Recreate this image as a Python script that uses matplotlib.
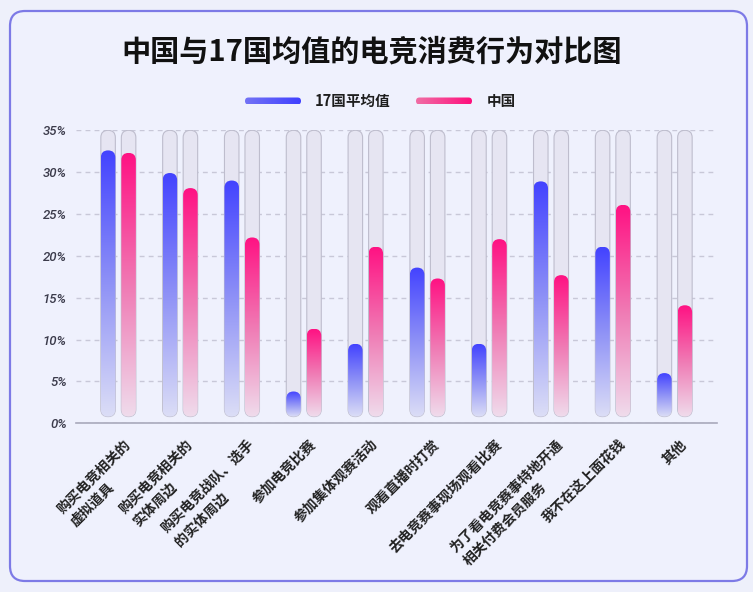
import numpy as np
import matplotlib
matplotlib.use("Agg")
import matplotlib.pyplot as plt
from matplotlib.patches import FancyBboxPatch
from matplotlib.colors import LinearSegmentedColormap
import matplotlib.transforms as mtransforms

plt.rcParams['font.family'] = ['Noto Sans CJK SC', 'DejaVu Sans']

# ---------------- data ----------------
title = "中国与17国均值的电竞消费行为对比图"
categories = ["购买电竞相关的\n虚拟道具", "购买电竞相关的\n实体周边", "购买电竞战队、选手\n的实体周边",
              "参加电竞比赛", "参加集体观赛活动", "观看直播时打赏", "去电竞赛事现场观看比赛",
              "为了看电竞赛事特地开通\n相关付费会员服务", "我不在这上面花钱", "其他"]
series_names = ["17国平均值", "中国"]
avg17 = [32.6, 29.9, 29.0, 3.8, 9.5, 18.6, 9.5, 28.9, 21.1, 6.0]
china = [32.3, 28.1, 22.2, 11.3, 21.1, 17.3, 22.0, 17.7, 26.1, 14.1]
yticks = [0, 5, 10, 15, 20, 25, 30, 35]
ytick_labels = [f"{v}%" for v in yticks]

# ---------------- figure ----------------
W, H = 753, 592
fig = plt.figure(figsize=(W / 100, H / 100), dpi=100)
fig.patch.set_facecolor('#eef0fb')

bg = fig.add_axes([0, 0, 1, 1], zorder=-10)
bg.set_xlim(0, W)
bg.set_ylim(H, 0)
bg.axis('off')
card = FancyBboxPatch((10, 11), 737, 570, boxstyle="round,pad=0,rounding_size=15",
                      fc='#eff1fd', ec='#7d7ae6', lw=1.6, zorder=1)
bg.add_patch(card)

# title
fig.text(371.5 / W, 1 - 51.5 / H, title, ha='center', va='center', fontsize=21,
         weight='bold', color='#111111')

# legend (drawn in pixel coordinates)
blue_leg = LinearSegmentedColormap.from_list('bl', ['#7373f5', '#4040ff'])
pink_leg = LinearSegmentedColormap.from_list('pl', ['#f06ea5', '#ff0f7d'])
hgrad = np.linspace(0, 1, 256).reshape(1, -1)
for (x0, x1), cm, name, tx in [((245, 301), blue_leg, series_names[0], 315),
                               ((416, 472), pink_leg, series_names[1], 487)]:
    p = FancyBboxPatch((x0, 97.5), x1 - x0, 7, boxstyle="round,pad=0,rounding_size=3.5",
                       fc='none', ec='none', zorder=3)
    bg.add_patch(p)
    im = bg.imshow(hgrad, extent=(x0, x1, 104.5, 97.5), aspect='auto', cmap=cm, zorder=3)
    im.set_clip_path(p)
    bg.text(tx, 101, name, ha='left', va='center', fontsize=10.5, weight='bold',
            color='#1e1e1e', zorder=4)
bg.set_xlim(0, W)
bg.set_ylim(H, 0)

# ---------------- main axes ----------------
ax_left, ax_right, ax_bot, ax_top = 76, 717, 423.3, 130.3
ax = fig.add_axes([ax_left / W, (H - ax_bot) / H, (ax_right - ax_left) / W, (ax_bot - ax_top) / H])
ax.set_facecolor('none')
xlim = (-0.685, 9.685)
ylim = (0, 35)
ax.set_xlim(*xlim)
ax.set_ylim(*ylim)

pxx = (ax_right - ax_left) / (xlim[1] - xlim[0])
pxy = (ax_bot - ax_top) / (ylim[1] - ylim[0])
bar_w_px, gap_px = 14.5, 6.0
wx = bar_w_px / pxx
off = (bar_w_px + gap_px) / 2 / pxx
r = (bar_w_px / 2) / pxx
aspect = pxx / pxy
track_bottom = 0.8

cm_blue = LinearSegmentedColormap.from_list('b', ['#dcdef6', '#8f92f6', '#4343ff'])
cm_pink = LinearSegmentedColormap.from_list('p', ['#efdcec', '#f07ab4', '#ff1283'])
vgrad = np.linspace(0, 1, 256).reshape(-1, 1)

x = np.arange(len(categories))
for vals, sgn, cm in [(avg17, -1, cm_blue), (china, 1, cm_pink)]:
    for xi, v in zip(x, vals):
        xc = xi + sgn * off
        track = FancyBboxPatch((xc - wx / 2, track_bottom), wx, ylim[1] - track_bottom,
                               boxstyle=f"round,pad=0,rounding_size={r}",
                               mutation_aspect=aspect, fc='#e6e5f2', ec='#bebdcd', lw=0.8,
                               zorder=2)
        ax.add_patch(track)
        bar = FancyBboxPatch((xc - wx / 2, track_bottom), wx, v - track_bottom,
                             boxstyle=f"round,pad=0,rounding_size={r}",
                             mutation_aspect=aspect, fc='none', ec='none', zorder=3)
        ax.add_patch(bar)
        im = ax.imshow(vgrad, extent=(xc - wx / 2, xc + wx / 2, track_bottom, v),
                       origin='lower', aspect='auto', cmap=cm, zorder=3)
        im.set_clip_path(bar)

ax.set_xlim(*xlim)
ax.set_ylim(*ylim)

# axes styling
for s in ['left', 'right', 'top']:
    ax.spines[s].set_visible(False)
ax.spines['bottom'].set_color('#a9a9bb')
ax.spines['bottom'].set_linewidth(1.2)
ax.set_yticks(yticks)
ax.set_yticklabels(ytick_labels, family=['Roboto', 'DejaVu Sans'], style='italic',
                   weight='medium', fontsize=9.5, color='#3b3b4b')
ax.tick_params(axis='y', length=0, pad=6.7)
ax.set_xticks([])
ax.yaxis.grid(True, ls=(0, (3.5, 3)), color='#c8c8d8', lw=1)
ax.set_axisbelow(True)

lab_tr = ax.transData + mtransforms.ScaledTranslation(5 / 100, -14 / 100, fig.dpi_scale_trans)
for xi, lab in zip(x, categories):
    ax.text(xi, 0, lab, transform=lab_tr, rotation=45, rotation_mode='anchor',
            ha='right', va='top', multialignment='left', fontsize=10, linespacing=1.45,
            color='#222222', weight='bold')

fig.savefig('out.png', dpi=100, facecolor=fig.get_facecolor())
